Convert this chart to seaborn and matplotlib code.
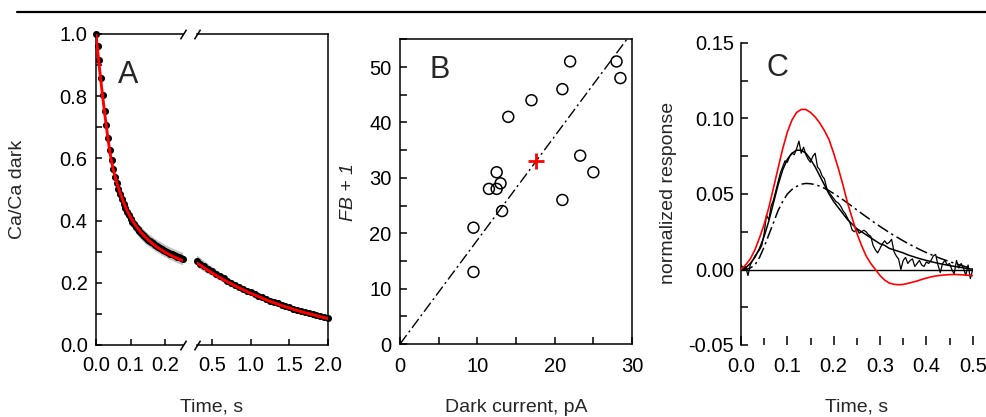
import numpy as np
import matplotlib
matplotlib.use("Agg")
import matplotlib.pyplot as plt
from matplotlib.lines import Line2D
from matplotlib.ticker import MultipleLocator, FormatStrFormatter
import seaborn as sns

# ---------------- Panel A: Ca/Ca dark decay ----------------
# early window, sampled every 5 ms
t_early = np.linspace(0.0, 0.25, 51)
ca_early = [1.000, 0.962, 0.915, 0.860, 0.805, 0.752, 0.708, 0.666, 0.628, 0.594,
            0.566, 0.541, 0.520, 0.502, 0.485, 0.469, 0.454, 0.441, 0.428, 0.417,
            0.406, 0.397, 0.388, 0.380, 0.373, 0.366, 0.360, 0.354, 0.349, 0.344,
            0.339, 0.335, 0.331, 0.327, 0.323, 0.319, 0.316, 0.313, 0.309, 0.306,
            0.303, 0.300, 0.297, 0.294, 0.292, 0.289, 0.287, 0.284, 0.282, 0.280,
            0.278]
sem_early = [0.000, 0.001, 0.002, 0.004, 0.005, 0.007, 0.008, 0.010, 0.011, 0.012,
             0.013, 0.014, 0.015, 0.016, 0.017, 0.018, 0.018, 0.019, 0.019] + [0.020] * 32

# late window, sampled every 50 ms
t_late = np.linspace(0.3, 2.0, 35)
ca_late = [0.271, 0.262, 0.253, 0.245, 0.237, 0.229, 0.221, 0.214, 0.207, 0.200,
           0.193, 0.187, 0.181, 0.175, 0.169, 0.163, 0.158, 0.153, 0.148, 0.143,
           0.138, 0.134, 0.129, 0.125, 0.121, 0.117, 0.113, 0.109, 0.106, 0.102,
           0.099, 0.096, 0.093, 0.090, 0.087]
sem_late = [0.019, 0.018, 0.017, 0.016, 0.015, 0.014, 0.013, 0.012, 0.011, 0.010,
            0.009, 0.008, 0.007, 0.007, 0.006, 0.006] + [0.005] * 19

# model fit
fit_t_early = [0.0, 0.005, 0.01, 0.015, 0.02, 0.025, 0.03, 0.035, 0.04, 0.045, 0.05,
               0.06, 0.07, 0.08, 0.09, 0.10, 0.11, 0.12, 0.13, 0.14, 0.15, 0.16,
               0.17, 0.18, 0.19, 0.20, 0.21, 0.22, 0.23, 0.24, 0.25]
fit_early = [1.000, 0.944, 0.890, 0.840, 0.792, 0.746, 0.702, 0.660, 0.622, 0.590, 0.563,
             0.522, 0.488, 0.458, 0.432, 0.410, 0.392, 0.376, 0.362, 0.350, 0.339, 0.329,
             0.320, 0.312, 0.305, 0.298, 0.292, 0.286, 0.281, 0.276, 0.272]
fit_t_late = np.linspace(0.3, 2.0, 18)
fit_late = [0.265, 0.248, 0.232, 0.217, 0.203, 0.190, 0.178, 0.166, 0.156,
            0.145, 0.136, 0.127, 0.119, 0.111, 0.104, 0.098, 0.091, 0.085]

# ---------------- Panel B: feedback gain vs dark current ----------------
dark_current = [9.5, 9.5, 11.5, 12.5, 12.5, 13.0, 13.2, 14.0, 17.0, 21.0,
                22.0, 21.0, 23.3, 25.0, 28.0, 28.5]
fb_plus_one = [13, 21, 28, 28, 31, 29, 24, 41, 44, 46,
               51, 26, 34, 31, 51, 48]
mean_current = [17.6]
mean_fb = [33.0]
line_x = [0.0, 30.0]

# ---------------- Panel C: normalized responses ----------------
t_trace = np.linspace(0.0, 0.5, 101)
trace = [0.003, 0.001, 0.002, -0.004, 0.003, 0.006, 0.009, 0.011, 0.013, 0.016,
         0.024, 0.036, 0.033, 0.042, 0.046, 0.052, 0.058, 0.064, 0.068, 0.072,
         0.071, 0.075, 0.077, 0.076, 0.080, 0.085, 0.077, 0.081, 0.076, 0.073,
         0.071, 0.075, 0.077, 0.068, 0.066, 0.062, 0.060, 0.054, 0.051, 0.049,
         0.047, 0.045, 0.044, 0.042, 0.039, 0.037, 0.034, 0.031, 0.026, 0.025,
         0.027, 0.024, 0.025, 0.026, 0.025, 0.023, 0.022, 0.016, 0.013, 0.011,
         0.014, 0.017, 0.019, 0.017, 0.018, 0.020, 0.012, 0.009, 0.007, 0.000,
         0.006, 0.008, 0.004, 0.006, 0.007, 0.002, 0.004, 0.006, 0.003, 0.002,
         0.005, 0.004, 0.006, 0.009, 0.010, 0.003, -0.002, 0.004, 0.006, 0.003,
         0.004, 0.000, -0.003, 0.006, 0.001, 0.004, 0.001, -0.004, 0.003, -0.006,
         0.000]

t_model = np.linspace(0.0, 0.5, 51)
model_fit = [0.000, 0.001, 0.004, 0.008, 0.014, 0.022, 0.032, 0.044, 0.056, 0.066,
             0.073, 0.077, 0.079, 0.079, 0.077, 0.073, 0.068, 0.062, 0.056, 0.050,
             0.045, 0.041, 0.037, 0.033, 0.030, 0.027, 0.025, 0.023, 0.021, 0.019,
             0.017, 0.016, 0.014, 0.013, 0.012, 0.011, 0.0097, 0.0087, 0.0077, 0.0068,
             0.0060, 0.0052, 0.0045, 0.0038, 0.0032, 0.0026, 0.0021, 0.0016, 0.0011, 0.0006,
             0.0002]
model_no_fb = [0.000, 0.000, 0.001, 0.003, 0.008, 0.015, 0.023, 0.031, 0.039, 0.045,
               0.050, 0.053, 0.055, 0.0565, 0.057, 0.0568, 0.0562, 0.0552, 0.0538, 0.0522,
               0.0503, 0.0483, 0.0462, 0.0440, 0.0418, 0.0395, 0.0372, 0.0350, 0.0328, 0.0306,
               0.0285, 0.0265, 0.0245, 0.0226, 0.0208, 0.0190, 0.0173, 0.0157, 0.0141, 0.0126,
               0.0112, 0.0099, 0.0086, 0.0074, 0.0063, 0.0052, 0.0042, 0.0032, 0.0023, 0.0014,
               0.0006]
model_strong_fb = [0.000, 0.003, 0.007, 0.013, 0.021, 0.030, 0.041, 0.054, 0.067, 0.080,
                   0.091, 0.099, 0.104, 0.106, 0.106, 0.104, 0.101, 0.097, 0.092, 0.086,
                   0.077, 0.067, 0.056, 0.044, 0.034, 0.024, 0.016, 0.009, 0.004, 0.000,
                   -0.004, -0.007, -0.009, -0.0098, -0.0101, -0.0099, -0.0092, -0.0084, -0.0076, -0.0066,
                   -0.0057, -0.0049, -0.0043, -0.0039, -0.0036, -0.0034, -0.0033, -0.0034, -0.0036, -0.0038,
                   -0.0040]

# ---------------- style ----------------
sns.set_style("ticks")
plt.rcParams.update({
    "font.family": ["Liberation Sans", "DejaVu Sans"],
    "font.size": 14,
    "axes.unicode_minus": False,
    "axes.linewidth": 1.1,
    "axes.edgecolor": "black",
    "xtick.direction": "in",
    "ytick.direction": "in",
    "xtick.color": "black",
    "ytick.color": "black",
    "xtick.major.width": 1.1,
    "ytick.major.width": 1.1,
    "xtick.minor.width": 1.1,
    "ytick.minor.width": 1.1,
    "xtick.labelsize": 14.5,
    "ytick.labelsize": 14.5,
})

W, H = 986, 417
fig = plt.figure(figsize=(W / 100, H / 100), dpi=100)


def px_axes(x0, x1, y_top, y_bot):
    return fig.add_axes([x0 / W, 1 - y_bot / H, (x1 - x0) / W, (y_bot - y_top) / H])


RED = "#ff0000"
DASHDOT = (0, (8, 2.5, 1.5, 2.5))

# ---------------- Panel A ----------------
axA1 = px_axes(96, 182.5, 34, 345)
axA2 = px_axes(196.5, 328, 34, 345)

for ax, t, ca, sem, ft, fv in ((axA1, t_early, ca_early, sem_early, fit_t_early, fit_early),
                              (axA2, t_late, ca_late, sem_late, fit_t_late, fit_late)):
    ca_a = np.asarray(ca)
    sem_a = np.asarray(sem)
    ax.fill_between(t, ca_a - sem_a, ca_a + sem_a, color="#c2c2c2", lw=0, zorder=1)
    sns.scatterplot(x=t, y=ca, ax=ax, color="black", s=26, linewidth=0,
                    zorder=2, clip_on=False, legend=False)
    sns.lineplot(x=ft, y=fv, ax=ax, color=RED, lw=2.1, zorder=3,
                 estimator=None, sort=False, legend=False)
    ax.set_ylim(0, 1.0)
    ax.set_xlabel("")
    ax.set_ylabel("")

axA1.set_xlim(0, 0.25)
axA2.set_xlim(0.3, 2.0)
axA1.spines["right"].set_visible(False)
axA2.spines["left"].set_visible(False)
axA1.set_xticks([0.0, 0.1, 0.2])
axA1.xaxis.set_major_formatter(FormatStrFormatter("%.1f"))
axA2.set_xticks([0.5, 1.0, 1.5, 2.0])
axA2.xaxis.set_major_formatter(FormatStrFormatter("%.1f"))
axA1.yaxis.set_major_locator(MultipleLocator(0.2))
axA1.yaxis.set_minor_locator(MultipleLocator(0.1))
axA1.yaxis.set_major_formatter(FormatStrFormatter("%.1f"))
axA1.tick_params(axis="both", which="both", length=4.5, pad=6)
axA1.tick_params(axis="x", pad=8)
axA2.tick_params(axis="y", which="both", left=False, labelleft=False)
axA2.tick_params(axis="x", length=4.5, pad=8)

# break marks on the split time axis
brk = dict(marker=[(-1, -1.6), (1, 1.6)], markersize=7, linestyle="none",
           color="black", mec="black", mew=1.1, clip_on=False)
axA1.plot([1, 1], [0, 1], transform=axA1.transAxes, **brk)
axA2.plot([0, 0], [0, 1], transform=axA2.transAxes, **brk)

axA1.set_ylabel("Ca/Ca dark")
axA1.yaxis.set_label_coords((26 - 96) / 86.5, 0.5)
axA1.set_xlabel("Time, s", va="top")
axA1.xaxis.set_label_coords((212 - 96) / 86.5, (345 - 398) / 311)

# ---------------- Panel B ----------------
axB = px_axes(400, 632, 39.3, 344)
sns.scatterplot(x=dark_current, y=fb_plus_one, ax=axB, marker="o", s=62,
                facecolor="none", edgecolor="black", linewidth=1.1, zorder=3, legend=False)
axB.collections[-1].set_facecolor("none")
slope = mean_fb[0] / mean_current[0]
sns.lineplot(x=line_x, y=[slope * v for v in line_x], ax=axB, color="black", lw=1.0,
             linestyle=DASHDOT, estimator=None, sort=False, legend=False, zorder=2)
sns.scatterplot(x=mean_current, y=mean_fb, ax=axB, marker="+", s=120, color=RED,
                linewidth=2.0, zorder=4, legend=False)
axB.set_xlim(0, 30)
axB.set_ylim(0, 55)
axB.xaxis.set_major_locator(MultipleLocator(10))
axB.xaxis.set_minor_locator(MultipleLocator(5))
axB.yaxis.set_major_locator(MultipleLocator(10))
axB.yaxis.set_minor_locator(MultipleLocator(5))
axB.tick_params(axis="both", which="both", length=5, pad=6)
axB.tick_params(axis="x", pad=9)
axB.set_ylabel("FB + 1", style="italic")
axB.yaxis.set_label_coords((357 - 400) / 232, 0.5)
axB.set_xlabel("Dark current, pA", va="top")
axB.xaxis.set_label_coords(0.5, (344 - 399) / 304.7)

# ---------------- Panel C ----------------
axC = px_axes(741, 972.7, 43, 345)
axC.axhline(0, color="black", lw=1.0, zorder=1)
sns.lineplot(x=t_trace, y=trace, ax=axC, color="black", lw=0.9, zorder=3,
             estimator=None, sort=False, legend=False)
sns.lineplot(x=t_model, y=model_fit, ax=axC, color="black", lw=1.1, zorder=3,
             estimator=None, sort=False, legend=False)
sns.lineplot(x=t_model, y=model_no_fb, ax=axC, color="black", lw=1.1, zorder=3,
             linestyle=DASHDOT, estimator=None, sort=False, legend=False)
sns.lineplot(x=t_model, y=model_strong_fb, ax=axC, color=RED, lw=1.2, zorder=4,
             estimator=None, sort=False, legend=False)
axC.set_xlim(0, 0.5)
axC.set_ylim(-0.05, 0.15)
for side in ("top", "right", "bottom"):
    axC.spines[side].set_visible(False)
axC.xaxis.set_major_locator(MultipleLocator(0.1))
axC.xaxis.set_minor_locator(MultipleLocator(0.05))
axC.xaxis.set_major_formatter(FormatStrFormatter("%.1f"))
axC.yaxis.set_major_locator(MultipleLocator(0.05))
axC.yaxis.set_minor_locator(MultipleLocator(0.025))
axC.yaxis.set_major_formatter(FormatStrFormatter("%.2f"))
axC.tick_params(axis="y", which="both", length=5, pad=5)
axC.tick_params(axis="x", which="major", length=6.5, pad=9)
axC.tick_params(axis="x", which="minor", length=5)
axC.set_ylabel("normalized response")
axC.yaxis.set_label_coords((677 - 741) / 231.7, 0.503)
axC.set_xlabel("Time, s", va="top")
axC.xaxis.set_label_coords(0.5, (345 - 398) / 302)

# panel letters
for letter, x, y in (("A", 118, 83), ("B", 429, 78), ("C", 766, 76)):
    fig.text(x / W, 1 - y / H, letter, fontsize=22, va="baseline", ha="left")

# rule across the top
fig.add_artist(Line2D([17 / W, 1.0], [1 - 12 / H, 1 - 12 / H], transform=fig.transFigure,
                      color="black", lw=1.6))

fig.savefig("out.png", dpi=100)
